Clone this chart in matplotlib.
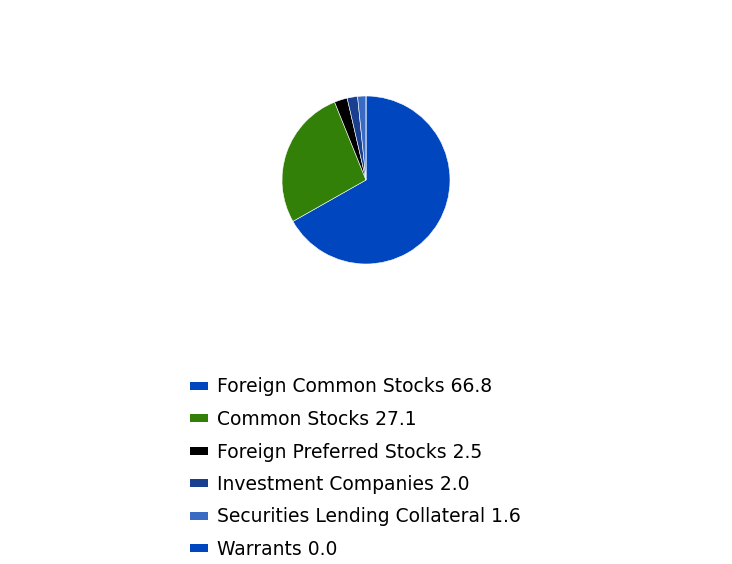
import matplotlib.pyplot as plt
from matplotlib.patches import Patch

# Data
LABELS = ['Foreign Common Stocks', 'Common Stocks', 'Foreign Preferred Stocks',
          'Investment Companies', 'Securities Lending Collateral', 'Warrants']
VALUES = [66.8, 27.1, 2.5, 2.0, 1.6, 0.0]
COLORS = ['#0047bf', '#338009', '#000000', '#1a3f8f', '#3a6bc4', '#0047bf']

fig = plt.figure(figsize=(7.32, 5.64), dpi=100)
ax = fig.add_axes([282 / 732, 300 / 564, 168 / 732, 168 / 564])

ax.pie(VALUES, colors=COLORS, startangle=90, counterclock=False,
       wedgeprops=dict(edgecolor='white', linewidth=0.4))
ax.set_xlim(-1, 1)
ax.set_ylim(-1, 1)
ax.set_aspect('equal')
ax.axis('off')

handles = [Patch(facecolor=c, edgecolor='none') for c in COLORS]
texts = [f'{lab} {val:.1f}' for lab, val in zip(LABELS, VALUES)]
fig.legend(handles, texts, loc='upper left', bbox_to_anchor=(182 / 732, 1 - 370 / 564),
           frameon=False, fontsize=13.5, handlelength=1.0, handleheight=0.3,
           handletextpad=0.48, labelspacing=0.72, borderaxespad=0)

plt.savefig('out.png', dpi=100)
plt.close()
